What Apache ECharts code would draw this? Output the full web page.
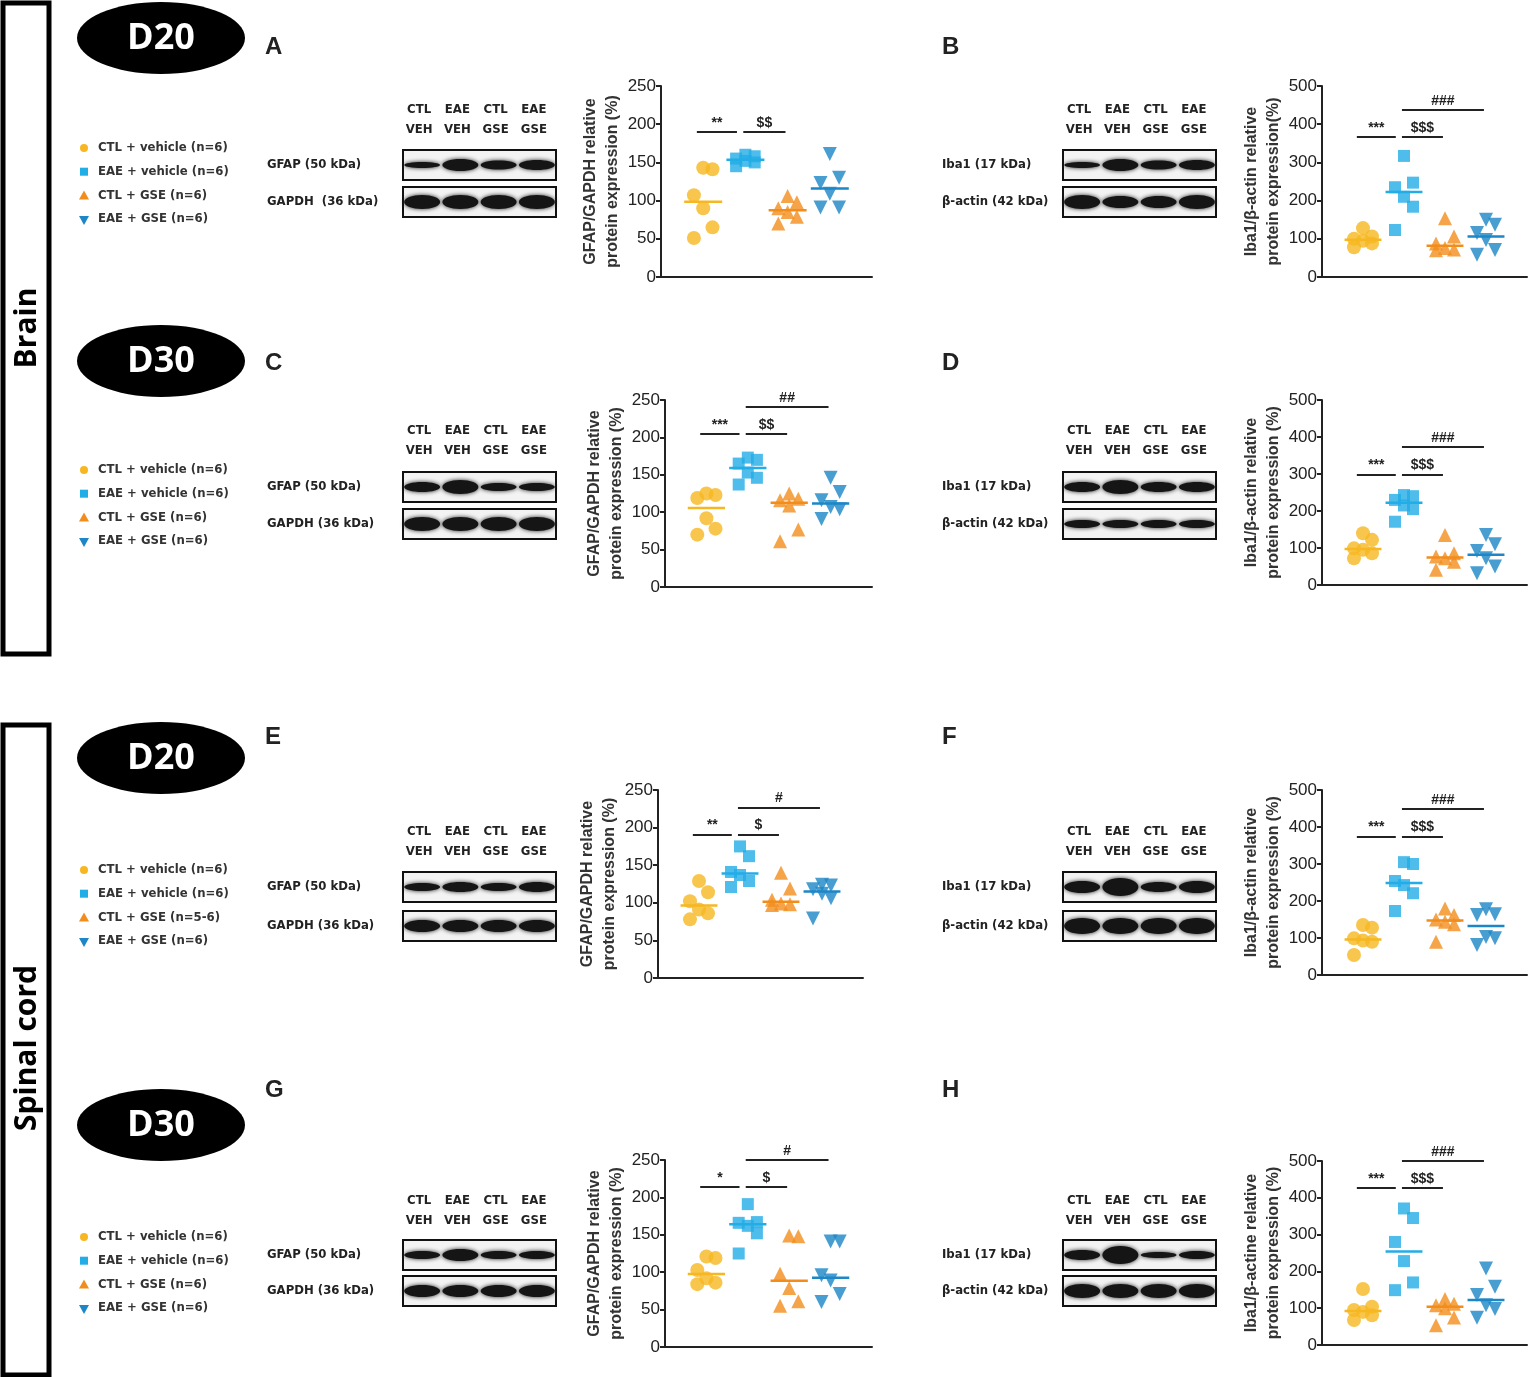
<!DOCTYPE html>
<html>
<head>
<meta charset="utf-8">
<script src="https://cdn.jsdelivr.net/npm/echarts@6/dist/echarts.min.js"></script>
<style>
html,body{margin:0;padding:0;background:#fff}
#main{width:1535px;height:1377px}
</style>
</head>
<body>
<div id="main"></div>
<script>
// groups and colours
var groupNames = ['CTL + vehicle', 'EAE + vehicle', 'CTL + GSE', 'EAE + GSE'];
var groupColors = ['#F6B721', '#22ADE6', '#F28D1B', '#1C86C6'];

// values (each panel: 4 groups x 6 animals)
var gfapBrainD20   = [[51, 65, 90, 107, 141, 143], [145, 150, 152, 155, 158, 160], [70, 79, 85, 90, 98, 106], [91, 91, 109, 123, 130, 161]];
var iba1BrainD20   = [[78, 88, 95, 100, 106, 128], [123, 184, 210, 235, 247, 317], [70, 72, 76, 88, 106, 154], [58, 71, 97, 115, 137, 150]];
var gfapBrainD30   = [[70, 78, 92, 119, 123, 125], [137, 146, 153, 165, 170, 173], [61, 77, 109, 116, 118, 125], [91, 104, 107, 116, 127, 146]];
var iba1BrainD30   = [[72, 86, 95, 99, 122, 140], [171, 205, 215, 230, 240, 243], [41, 63, 72, 77, 86, 135], [32, 50, 72, 92, 110, 135]];
var gfapSpinalD20  = [[78, 86, 91, 102, 114, 129], [121, 129, 137, 141, 162, 175], [97, 98, 99, 104, 119, 140], [79, 106, 112, 118, 123, 124]];
var iba1SpinalD20  = [[54, 90, 93, 99, 128, 135], [173, 221, 243, 254, 300, 305], [90, 137, 144, 150, 162, 180], [81, 99, 103, 162, 164, 178]];
var gfapSpinalD30  = [[84, 86, 92, 103, 119, 121], [125, 152, 162, 166, 167, 191], [55, 61, 79, 98, 148, 149], [60, 71, 89, 96, 141, 141]];
var iba1SpinalD30  = [[68, 81, 90, 95, 104, 152], [149, 170, 228, 280, 345, 371], [54, 75, 100, 108, 112, 125], [74, 98, 108, 136, 158, 208]];

// significance marks: [text, height]
var sigA = [['**', 190], ['$$', 190]];
var sigB = [['***', 367], ['$$$', 367], ['###', 437]];
var sigC = [['***', 205], ['$$', 205], ['##', 241]];
var sigD = [['***', 299], ['$$$', 299], ['###', 373]];
var sigE = [['**', 191], ['$', 191], ['#', 227]];
var sigF = [['***', 374], ['$$$', 374], ['###', 449]];
var sigG = [['*', 214], ['$', 214], ['#', 250]];
var sigH = [['***', 427], ['$$$', 427], ['###', 500]];

var panelData = [gfapBrainD20, iba1BrainD20, gfapBrainD30, iba1BrainD30, gfapSpinalD20, iba1SpinalD20, gfapSpinalD30, iba1SpinalD30];
var panelSig = [sigA, sigB, sigC, sigD, sigE, sigF, sigG, sigH];
var panelMax = [250, 500, 250, 500, 250, 500, 250, 500];
var panelYName = [
  'GFAP/GAPDH relative\nprotein expression (%)',
  'Iba1/\u03b2-actin relative\nprotein expression(%)',
  'GFAP/GAPDH relative\nprotein expression (%)',
  'Iba1/\u03b2-actin relative\nprotein expression (%)',
  'GFAP/GAPDH relative\nprotein expression (%)',
  'Iba1/\u03b2-actin relative\nprotein expression (%)',
  'GFAP/GAPDH relative\nprotein expression (%)',
  'Iba1/\u03b2-actine relative\nprotein expression (%)'
];

var grids = [
  {left: 661, top: 86, width: 211, height: 191},
  {left: 1322, top: 86, width: 205, height: 191},
  {left: 665, top: 400, width: 207, height: 187},
  {left: 1322, top: 400, width: 205, height: 185},
  {left: 658, top: 790, width: 205, height: 188},
  {left: 1322, top: 790, width: 205, height: 185},
  {left: 665, top: 1160, width: 207, height: 187},
  {left: 1322, top: 1161, width: 205, height: 184}
];

var jitter = [-0.22, 0.22, 0, -0.22, 0.22, 0];
var sigSpans = [[0.85, 1.8], [1.95, 2.95], [1.95, 3.95]];
var symbolOf = ['circle', 'rect', 'triangle', 'triangle'];
var NARROW = '"Liberation Sans Narrow","DejaVu Sans Condensed",sans-serif';
var ARIAL = 'Arial, "Liberation Sans", sans-serif';

function median(a) {
  var s = a.slice().sort(function (x, y) { return x - y; });
  var m = Math.floor(s.length / 2);
  return s.length % 2 ? s[m] : (s[m - 1] + s[m]) / 2;
}

var xAxes = [], yAxes = [], series = [];
panelData.forEach(function (groups, p) {
  xAxes.push({
    gridIndex: p, type: 'value', min: 0, max: 5,
    axisLine: {lineStyle: {color: '#222', width: 2}},
    axisTick: {show: false}, axisLabel: {show: false}, splitLine: {show: false}
  });
  yAxes.push({
    gridIndex: p, type: 'value', min: 0, max: panelMax[p], interval: panelMax[p] / 5,
    name: panelYName[p], nameLocation: 'middle', nameGap: 33,
    nameTextStyle: {fontFamily: ARIAL, fontSize: 16, fontWeight: 'bold', color: '#333', lineHeight: 22},
    axisLine: {show: true, lineStyle: {color: '#222', width: 2}},
    axisTick: {show: true, length: 5, lineStyle: {color: '#222', width: 2}},
    axisLabel: {fontFamily: ARIAL, fontSize: 17, color: '#222', margin: 5},
    splitLine: {show: false}
  });
  groups.forEach(function (vals, g) {
    var s = {
      type: 'scatter', xAxisIndex: p, yAxisIndex: p,
      symbol: symbolOf[g], symbolSize: g === 1 ? 12 : 14,
      symbolRotate: g === 3 ? 180 : 0,
      itemStyle: {color: groupColors[g]},
      data: vals.map(function (v, i) { return [g + 1 + jitter[i], v]; }),
      z: 3
    };
    if (g === 0) {
      s.markLine = {
        silent: true, symbol: 'none', animation: false,
        lineStyle: {color: '#222', width: 2, type: 'solid'},
        label: {show: true, position: 'middle', color: '#222',
          formatter: function (prm) { return prm.name; },
          fontSize: 14, fontWeight: 'bold', distance: 2},
        data: panelSig[p].map(function (sg, k) {
          return [{name: sg[0], coord: [sigSpans[k][0], sg[1]]}, {coord: [sigSpans[k][1], sg[1]]}];
        })
      };
    }
    series.push(s);
    var m = median(vals);
    series.push({
      type: 'line', xAxisIndex: p, yAxisIndex: p, symbol: 'none',
      lineStyle: {color: groupColors[g], width: 2.5},
      data: [[g + 1 - 0.45, m], [g + 1 + 0.45, m]], z: 4
    });
  });
});

// decorative parts: ovals, frames, legends, blots
var rows = [
  {letterY: 47, colY: 110, legY: 148, b1: 165, b2: 202, day: 'D20', ovalY: 38, third: 'CTL + GSE (n=6)', gapdh: 'GAPDH  (36 kDa)',
   gfapBands: [3, 6, 4.5, 5], gapdhBands: [7, 7, 7, 7], ibaBands: [3, 6, 4.5, 5], actinBands: [7, 6, 6, 7]},
  {letterY: 363, colY: 431, legY: 470, b1: 487, b2: 524, day: 'D30', ovalY: 361, third: 'CTL + GSE (n=6)', gapdh: 'GAPDH (36 kDa)',
   gfapBands: [5, 7, 4, 4], gapdhBands: [7, 7, 7, 7], ibaBands: [5, 7, 5, 5], actinBands: [4, 4, 4, 4]},
  {letterY: 737, colY: 832, legY: 870, b1: 887, b2: 926, day: 'D20', ovalY: 758, third: 'CTL + GSE (n=5-6)', gapdh: 'GAPDH (36 kDa)',
   gfapBands: [4, 5, 4, 5], gapdhBands: [6, 6, 6, 6], ibaBands: [6, 9, 5, 6], actinBands: [8, 8, 8, 8]},
  {letterY: 1090, colY: 1201, legY: 1237, b1: 1255, b2: 1291, day: 'D30', ovalY: 1125, third: 'CTL + GSE (n=6)', gapdh: 'GAPDH (36 kDa)',
   gfapBands: [4, 6, 4, 4], gapdhBands: [6, 6, 6, 6], ibaBands: [5, 9, 3, 4], actinBands: [7, 7, 7, 7]}
];
var letters = [['A', 'B'], ['C', 'D'], ['E', 'F'], ['G', 'H']];
var laneTop = ['CTL', 'EAE', 'CTL', 'EAE'];
var laneBottom = ['VEH', 'VEH', 'GSE', 'GSE'];

var gfx = [];
function txt(x, y, t, size, opts) {
  gfx.push({type: 'text', x: x, y: y, style: Object.assign({text: t, fontSize: size, fill: '#222',
    fontFamily: NARROW, fontWeight: 'bold', textVerticalAlign: 'middle'}, opts || {})});
}
function blot(x, cy, bands) {
  var w = 153, h = 30;
  gfx.push({type: 'rect', shape: {x: x, y: cy - h / 2, width: w, height: h},
    style: {fill: '#f3f3f3', stroke: '#111', lineWidth: 2}});
  bands.forEach(function (t, i) {
    gfx.push({type: 'ellipse', shape: {cx: x + w * (i + 0.5) / 4, cy: cy, rx: 18, ry: t},
      style: {fill: '#151515', shadowBlur: 4, shadowColor: '#222'}});
  });
}
function lanes(x, y) {
  for (var i = 0; i < 4; i++) {
    var cx = x + 153 * (i + 0.5) / 4 - 3;
    txt(cx, y, laneTop[i], 13, {textAlign: 'center'});
    txt(cx, y + 20, laneBottom[i], 13, {textAlign: 'center'});
  }
}

rows.forEach(function (r, k) {
  gfx.push({type: 'ellipse', shape: {cx: 161, cy: r.ovalY, rx: 84, ry: 36}, style: {fill: '#000'}});
  txt(161, r.ovalY + 1, r.day, 36, {fill: '#fff', textAlign: 'center', fontFamily: '"Open Sans", "DejaVu Sans", sans-serif'});
  txt(265, r.letterY, letters[k][0], 24, {fontFamily: ARIAL, textAlign: 'left'});
  txt(942, r.letterY, letters[k][1], 24, {fontFamily: ARIAL, textAlign: 'left'});
  // legend
  var legTexts = [groupNames[0] + ' (n=6)', groupNames[1] + ' (n=6)', r.third, groupNames[3] + ' (n=6)'];
  legTexts.forEach(function (t, i) {
    var y = r.legY + i * 23.7, x = 84;
    if (i === 0) gfx.push({type: 'circle', shape: {cx: x, cy: y, r: 4}, style: {fill: groupColors[0]}});
    if (i === 1) gfx.push({type: 'rect', shape: {x: x - 4, y: y - 4, width: 8, height: 8}, style: {fill: groupColors[1]}});
    if (i === 2) gfx.push({type: 'polygon', shape: {points: [[x, y - 5], [x + 5, y + 4], [x - 5, y + 4]]}, style: {fill: groupColors[2]}});
    if (i === 3) gfx.push({type: 'polygon', shape: {points: [[x - 5, y - 3], [x + 5, y - 3], [x, y + 6]]}, style: {fill: groupColors[3]}});
    txt(98, y, t, 13, {fill: '#333'});
  });
  // left blot
  lanes(403, r.colY);
  txt(267, r.b1, 'GFAP (50 kDa)', 13);
  txt(267, r.b2, r.gapdh, 13);
  blot(403, r.b1, r.gfapBands);
  blot(403, r.b2, r.gapdhBands);
  // right blot
  lanes(1063, r.colY);
  txt(942, r.b1, 'Iba1 (17 kDa)', 13);
  txt(942, r.b2, '\u03b2-actin (42 kDa)', 13);
  blot(1063, r.b1, r.ibaBands);
  blot(1063, r.b2, r.actinBands);
});

// tissue frames
gfx.push({type: 'rect', shape: {x: 3, y: 3, width: 46, height: 651}, style: {fill: 'none', stroke: '#000', lineWidth: 5}});
gfx.push({type: 'text', x: 27, y: 328, rotation: Math.PI / 2,
  style: {text: 'Brain', fontSize: 30, fontWeight: 'bold', fill: '#000', textAlign: 'center', textVerticalAlign: 'middle',
    fontFamily: '"Open Sans", "DejaVu Sans", sans-serif'}});
gfx.push({type: 'rect', shape: {x: 3, y: 725, width: 46, height: 650}, style: {fill: 'none', stroke: '#000', lineWidth: 5}});
gfx.push({type: 'text', x: 27, y: 1048, rotation: Math.PI / 2,
  style: {text: 'Spinal cord', fontSize: 30, fontWeight: 'bold', fill: '#000', textAlign: 'center', textVerticalAlign: 'middle',
    fontFamily: '"Open Sans", "DejaVu Sans", sans-serif'}});

var chart = echarts.init(document.getElementById('main'));
chart.setOption({
  animation: false,
  backgroundColor: '#fff',
  grid: grids,
  xAxis: xAxes,
  yAxis: yAxes,
  series: series,
  graphic: gfx
});
</script>
</body>
</html>
